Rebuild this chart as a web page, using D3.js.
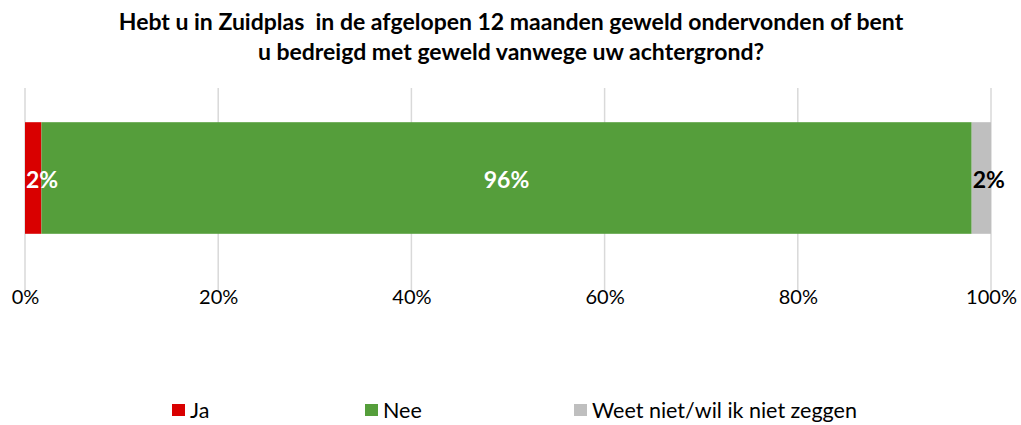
<!DOCTYPE html>
<html>
<head>
<meta charset="utf-8">
<script src="https://cdn.jsdelivr.net/npm/d3@7"></script>
<style>
  body { margin: 0; background: #fff; }
  svg text { font-family: Lato, "Open Sans", sans-serif; }
</style>
</head>
<body>
<div id="chart"></div>
<script>
var categories = ["Ja", "Nee", "Weet niet/wil ik niet zeggen"];
var values = [1.7, 96.3, 2.0];
var labels = ["2%", "96%", "2%"];
var colors = ["#d90000", "#559e3b", "#bfbfbf"];
var labelColors = ["#ffffff", "#ffffff", "#000000"];
var ticks = [0, 20, 40, 60, 80, 100];
var titleLines = ["Hebt u in Zuidplas  in de afgelopen 12 maanden geweld ondervonden of bent",
                  "u bedreigd met geweld vanwege uw achtergrond?"];

var width = 1021, height = 425;
var margin = {left: 25, right: 30, top: 88, bottom: 157};

var svg = d3.select("#chart").append("svg")
    .attr("width", width)
    .attr("height", height);

var x = d3.scaleLinear().domain([0, 100]).range([margin.left, width - margin.right]);
var y = d3.scaleBand().domain(["bar"]).range([margin.top, height - margin.bottom]).paddingInner(0.38).paddingOuter(0.19);

// title
svg.append("g").selectAll("text")
    .data(titleLines)
    .enter().append("text")
    .attr("x", 511)
    .attr("y", function(d, i) { return 30 + i * 30; })
    .attr("text-anchor", "middle")
    .style("font-size", "23px")
    .style("font-weight", "bold")
    .style("white-space", "pre")
    .style("fill", "#000")
    .text(function(d) { return d; });

// gridlines
svg.append("g").selectAll("line")
    .data(ticks)
    .enter().append("line")
    .attr("x1", function(d) { return x(d); })
    .attr("x2", function(d) { return x(d); })
    .attr("y1", margin.top)
    .attr("y2", height - margin.bottom + 23)
    .style("stroke", "#d9d9d9")
    .style("stroke-width", 1.5);

// stacked segments
var stack = [];
var cum = 0;
values.forEach(function(v, i) {
    stack.push({start: cum, end: cum + v, i: i});
    cum += v;
});

svg.append("g").selectAll("rect")
    .data(stack)
    .enter().append("rect")
    .attr("x", function(d) { return x(d.start); })
    .attr("width", function(d) { return x(d.end) - x(d.start); })
    .attr("y", y("bar"))
    .attr("height", y.bandwidth())
    .style("fill", function(d) { return colors[d.i]; });

// labels: centred, or pushed to segment start when the segment is too narrow
svg.append("g").selectAll("text")
    .data(stack)
    .enter().append("text")
    .attr("y", y("bar") + y.bandwidth() / 2 + 2)
    .attr("dy", "0.36em")
    .style("font-size", "23px")
    .style("font-weight", "bold")
    .style("fill", function(d) { return labelColors[d.i]; })
    .text(function(d) { return labels[d.i]; })
    .each(function(d) {
        var w = this.getComputedTextLength();
        var segW = x(d.end) - x(d.start);
        if (w > segW) {
            d3.select(this).attr("x", x(d.start) + 1).attr("text-anchor", "start");
        } else {
            d3.select(this).attr("x", (x(d.start) + x(d.end)) / 2).attr("text-anchor", "middle");
        }
    });

// axis
var axis = d3.axisBottom(x)
    .tickValues(ticks)
    .tickSize(0)
    .tickFormat(function(d) { return d + "%"; });

var ax = svg.append("g")
    .attr("transform", "translate(0," + (height - margin.bottom + 19) + ")")
    .call(axis);
ax.select(".domain").remove();
ax.selectAll("text")
    .style("font-family", "Lato, sans-serif")
    .style("font-size", "20px")
    .style("fill", "#000");

// legend
var legendX = [172, 365, 574];
var legend = svg.append("g").selectAll("g")
    .data(categories)
    .enter().append("g")
    .attr("transform", function(d, i) { return "translate(" + legendX[i] + ",404)"; });
legend.append("rect")
    .attr("width", 13)
    .attr("height", 12)
    .style("fill", function(d, i) { return colors[i]; });
legend.append("text")
    .attr("x", 18)
    .attr("y", 6)
    .attr("dy", "0.36em")
    .style("font-size", "21.5px")
    .style("fill", "#000")
    .text(function(d) { return d; });
</script>
</body>
</html>
